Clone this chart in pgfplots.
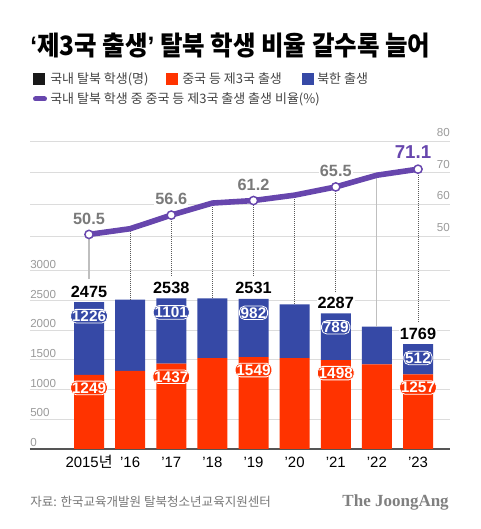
\documentclass[border=0pt]{standalone}
\usepackage{graphicx}
\usepackage{fontspec}
\setmainfont{Liberation Sans}
\newfontfamily\kr{Noto Sans CJK KR}
\newfontfamily\serifb{Liberation Serif}
\usepackage{pgfplots}
\usepackage{pgfplotstable}
\pgfplotsset{compat=1.18}
\definecolor{cnred}{HTML}{FF3300}
\definecolor{nkblue}{HTML}{3649A6}
\definecolor{lpurple}{HTML}{6746AD}
\definecolor{gridc}{HTML}{DCDCDC}
\definecolor{tickc}{HTML}{9A9A9A}
\definecolor{lblgray}{HTML}{7A7A7A}
\definecolor{legc}{HTML}{444444}
\definecolor{footc}{HTML}{777777}
\definecolor{basec}{HTML}{555555}

\pgfplotstableread{
x china nk total
0 1249 1226 2475
1 1317 1200 2517
2 1437 1101 2538
3 1533 1005 2538
4 1549 982 2531
5 1533 904 2437
6 1498 789 2287
7 1427 634 2061
8 1257 512 1769
}\bars

\pgfplotstableread{
x pct
0 50.5
1 52.3
2 56.6
3 60.4
4 61.2
5 62.9
6 65.5
7 69.2
8 71.1
}\ratio

\tikzset{
  totlbl/.style={font=\bfseries\fontsize{12.2}{13}\selectfont, text=black, fill=white, inner sep=0.6pt, yshift=7.9pt},
  bluelbl/.style={font=\bfseries\fontsize{11.5}{12}\selectfont, text=white, fill=nkblue, draw=white,
        line width=0.6pt, rounded corners=4pt, inner sep=1pt, yshift=-10.5pt},
  redlbl/.style={font=\bfseries\fontsize{11.5}{12}\selectfont, text=white, fill=cnred, draw=white,
        line width=0.6pt, rounded corners=4pt, inner sep=1pt, yshift=-9.75pt},
  pctlbl/.style={font=\bfseries\fontsize{12.2}{13}\selectfont, text=lblgray, fill=white, inner sep=0.8pt, yshift=12pt},
  solidconn/.style={color=gray!50, line width=0.8pt},
  dotconn/.style={color=black!65, line width=0.55pt, dash pattern=on 0.6pt off 0.9pt},
}
\pgfplotsset{
  common/.style={
    at={(22.5pt,60pt)}, anchor=south west,
    scale only axis, width=315pt, height=231pt,
    xmin=-1.435, xmax=8.778,
    axis line style={draw=none},
    major tick length=0pt,
    /pgf/number format/assume math mode=true,
    /pgf/number format/1000 sep={},
    clip=false,
  }
}

\begin{document}
\begin{tikzpicture}
\useasboundingbox (0,0) rectangle (360pt,396.75pt);

% ---------- bar axis ----------
\begin{axis}[
  common, ymin=0, ymax=5191,
  ybar stacked, bar width=22.5pt,
  ytick={0,500,...,3000},
  ymajorgrids, grid style={gridc, line width=0.75pt},
  yticklabel style={anchor=south west, inner sep=0pt, yshift=1.5pt,
    font=\fontsize{8.7}{9}\selectfont, text=tickc},
  xtick={0,...,8},
  xticklabels={2015{\kr 년}, ’16, ’17, ’18, ’19, ’20, ’21, ’22, ’23},
  xticklabel style={anchor=center, inner sep=0pt, yshift=-9.75pt,
    font=\fontsize{11.2}{12}\selectfont, text=black},
]
\addplot[fill=cnred, draw=none] table[x=x, y=china] {\bars};
\addplot[fill=nkblue, draw=none] table[x=x, y=nk] {\bars};
\draw[basec, line width=0.9pt] (rel axis cs:0,0) -- (rel axis cs:1,0);
\end{axis}

% ---------- labels on bars (same scale, drawn on top) ----------
\begin{axis}[common, ymin=0, ymax=5191, hide axis]
\node[totlbl] at (axis cs:0,2475) {2475};
\node[totlbl] at (axis cs:2,2538) {2538};
\node[totlbl] at (axis cs:4,2531) {2531};
\node[totlbl] at (axis cs:6,2287) {2287};
\node[totlbl] at (axis cs:8,1769) {1769};

\node[bluelbl] at (axis cs:0,2475) {1226};
\node[bluelbl] at (axis cs:2,2538) {1101};
\node[bluelbl] at (axis cs:4,2531) {982};
\node[bluelbl] at (axis cs:6,2287) {789};
\node[bluelbl] at (axis cs:8,1769) {512};

\node[redlbl] at (axis cs:0,1249) {1249};
\node[redlbl] at (axis cs:2,1437) {1437};
\node[redlbl] at (axis cs:4,1549) {1549};
\node[redlbl] at (axis cs:6,1498) {1498};
\node[redlbl] at (axis cs:8,1257) {1257};
\end{axis}

% ---------- ratio axis ----------
\begin{axis}[
  common, ymin=-17.26, ymax=80,
  xtick=\empty,
  ytick={50,60,70,80},
  ymajorgrids, grid style={gridc, line width=0.75pt},
  yticklabel pos=right,
  yticklabel style={anchor=south east, inner sep=0pt, yshift=3pt,
    font=\fontsize{8.7}{9}\selectfont, text=tickc},
]
\draw[solidconn] (axis cs:0,50.5) -- (axis cs:0,36.4);
\draw[solidconn] (axis cs:7,69.2) -- (axis cs:7,21.3);
\draw[dotconn] (axis cs:1,52.3) -- (axis cs:1,29.8);
\draw[dotconn] (axis cs:2,56.6) -- (axis cs:2,37.4);
\draw[dotconn] (axis cs:3,60.4) -- (axis cs:3,30.1);
\draw[dotconn] (axis cs:4,61.2) -- (axis cs:4,37.4);
\draw[dotconn] (axis cs:5,62.9) -- (axis cs:5,28.5);
\draw[dotconn] (axis cs:6,65.5) -- (axis cs:6,32.3);
\draw[dotconn] (axis cs:8,71.1) -- (axis cs:8,22.8);

\addplot[lpurple, line width=4.2pt, line join=round, mark=none] table[x=x, y=pct] {\ratio};
\addplot[only marks, mark=*, mark size=3.1pt,
  mark options={fill=white, draw=lpurple, line width=1.1pt}]
  coordinates {(0,50.5) (2,56.6) (4,61.2) (6,65.5) (8,71.1)};

\node[pctlbl] at (axis cs:0,50.5) {50.5};
\node[pctlbl] at (axis cs:2,56.6) {56.6};
\node[pctlbl] at (axis cs:4,61.2) {61.2};
\node[pctlbl] at (axis cs:6,65.5) {65.5};
\node[font=\bfseries\fontsize{14}{15}\selectfont, text=lpurple, inner sep=0.8pt, yshift=12.75pt, xshift=-3.75pt]
  at (axis cs:8,71.1) {71.1};
\end{axis}

% ---------- title, legend, footer (px coordinates from top-left) ----------
\begin{scope}[x=0.75pt, y=-0.75pt, shift={(0pt,396.75pt)}]
\node[anchor=west, inner sep=0pt, font=\kr\bfseries\fontsize{20}{22}\selectfont] at (30,45)
  {\resizebox{300pt}{\height}{{\rmfamily\bfseries ‘}제3국 출생{\rmfamily\bfseries ’} 탈북 학생 비율 갈수록 늘어}};

\fill[black!90] (33,73) rectangle (45,85);
\node[anchor=west, inner sep=0pt, font=\kr\fontsize{9.75}{10}\selectfont, text=legc] at (50,79) {국내 탈북 학생(명)};
\fill[cnred] (166,73) rectangle (178,85);
\node[anchor=west, inner sep=0pt, font=\kr\fontsize{9.75}{10}\selectfont, text=legc] at (182,79) {중국 등 제3국 출생};
\fill[nkblue] (302,73) rectangle (314,85);
\node[anchor=west, inner sep=0pt, font=\kr\fontsize{9.75}{10}\selectfont, text=legc] at (317,79) {북한 출생};
\draw[lpurple, line width=3.75pt, line cap=round] (35.5,99) -- (44.5,99);
\node[anchor=west, inner sep=0pt, font=\kr\fontsize{9.75}{10}\selectfont, text=legc] at (50,99) {국내 탈북 학생 중 중국 등 제3국 출생 출생 비율(\%)};

\node[anchor=west, inner sep=0pt, font=\kr\fontsize{9.4}{10}\selectfont, text=footc] at (30,502) {자료: 한국교육개발원 탈북청소년교육지원센터};
\node[anchor=east, inner sep=0pt, font=\serifb\bfseries\fontsize{12.75}{13}\selectfont, text=gray] at (449,502) {The JoongAng};
\end{scope}
\end{tikzpicture}
\end{document}
